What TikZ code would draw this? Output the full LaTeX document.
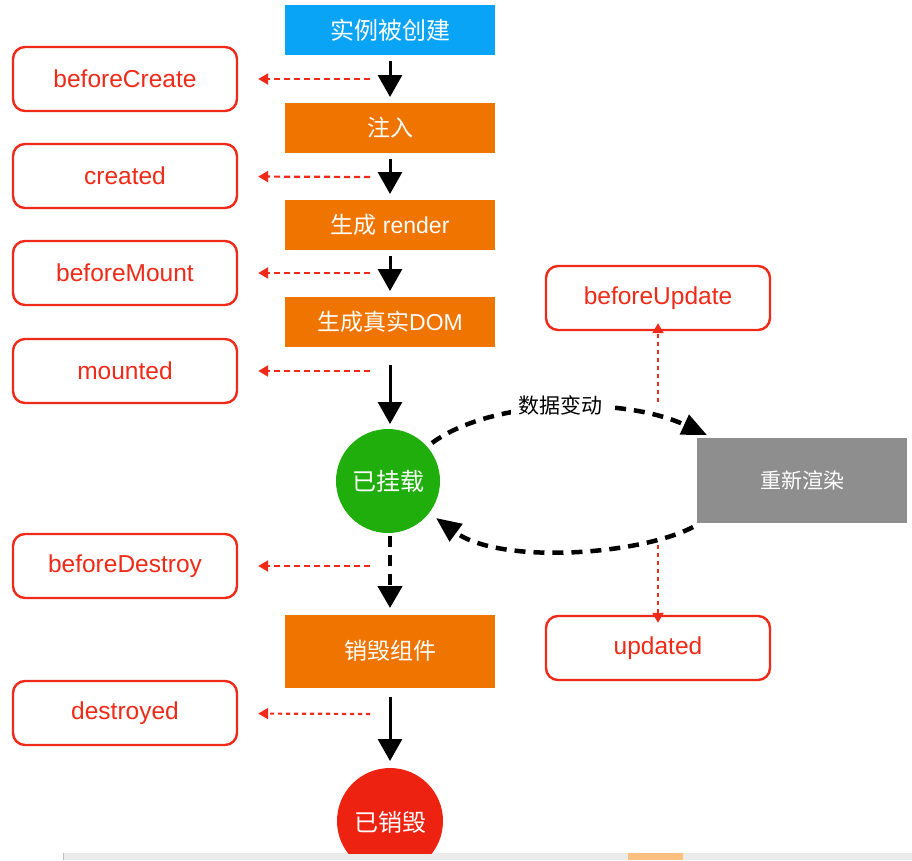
\documentclass[tikz,border=0pt]{standalone}
\usepackage{fontspec}
\setmainfont{Liberation Sans}
\newfontfamily\cjk{Noto Sans CJK SC}
\usetikzlibrary{arrows.meta}
\definecolor{sky}{HTML}{0AA4F6}
\definecolor{org}{HTML}{F07400}
\definecolor{hred}{HTML}{F02A18}
\definecolor{grn}{HTML}{1FAE0B}
\definecolor{gry}{HTML}{8E8E8E}
\definecolor{dred}{HTML}{EE2210}
\tikzset{
  stage/.style={fill=org, minimum width=210pt, minimum height=50pt, inner sep=0pt, text=white, font=\cjk\fontsize{23}{26}\selectfont},
  hookbox/.style={draw=hred, line width=2.4pt, rounded corners=12pt, fill=white, minimum width=224pt, minimum height=64pt, text=hred, font=\fontsize{24.5}{28}\selectfont},
  flow/.style={line width=3pt, -{Triangle[width=24pt,length=22pt]}},
  hook/.style={hred, line width=2.2pt, dash pattern=on 6pt off 4pt, -{Triangle[width=11pt,length=10pt]}, shorten >=20pt},
  dothook/.style={hred, line width=2.2pt, dash pattern=on 4pt off 4pt, -{Triangle[width=11pt,length=10pt]}},
  loopline/.style={line width=4.5pt, dash pattern=on 11pt off 8pt, -{Triangle[width=21pt,length=25pt]}},
}
\begin{document}
\begin{tikzpicture}[x=1pt,y=-1pt]
\useasboundingbox (0,0) rectangle (912,860);
% screen strip at bottom
\fill[black!8] (0,853) rectangle (912,860);
\fill[white] (0,853) rectangle (63,860);
\draw[black!25] (63,853) -- (63,860);
\fill[orange!50] (628,853) rectangle (683,860);

% main column
\node[stage, fill=sky, font=\cjk\fontsize{24}{26}\selectfont] (s0) at (390,30) {实例被创建};
\node[stage] (s1) at (390,128) {注入};
\node[stage] (s2) at (390,225) {生成\fontspec{Liberation Sans}\ render};
\node[stage] (s3) at (390,322) {生成真实\fontspec{Liberation Sans}DOM};
\node[circle, fill=grn, minimum size=104pt, inner sep=0pt, text=white, font=\cjk\fontsize{24}{26}\selectfont] (mt) at (388,481) {已挂载};
\node[stage] (s4) at (390,651) [minimum height=73pt] {销毁组件};
\begin{scope}
\clip (0,0) rectangle (912,853);
\node[circle, fill=dred, minimum size=106pt, inner sep=0pt] (dd) at (390,821) {};
\end{scope}
\node[text=white, font=\cjk\fontsize{24}{26}\selectfont] (ddt) at (390,822) {已销毁};
\node[fill=gry, minimum width=210pt, minimum height=85pt, inner sep=0pt, text=white, font=\cjk\fontsize{21}{24}\selectfont] (rr) at (802,480) {重新渲染};

% hook boxes
\node[hookbox] (h1) at (125,79) {beforeCreate};
\node[hookbox] (h2) at (125,176) {created};
\node[hookbox] (h3) at (125,273) {beforeMount};
\node[hookbox] (h4) at (125,371) {mounted};
\node[hookbox] (h5) at (125,566) {beforeDestroy};
\node[hookbox] (h6) at (125,713) {destroyed};
\node[hookbox] (bu) at (658,298) {beforeUpdate};
\node[hookbox] (up) at (658,648) {updated};

% flow arrows
\draw[flow] (390,61) -- (390,97);
\draw[flow] (390,159) -- (390,194);
\draw[flow] (390,256) -- (390,291);
\draw[flow] (390,365) -- (390,424);
\draw[flow] (390,697) -- (390,761);
\draw[loopline, -{Triangle[width=24pt,length=22pt]}] (390,536) -- (390,608);

% hook connectors
\coordinate (c1) at (370,79);
\coordinate (c2) at (370,177);
\coordinate (c3) at (370,273);
\coordinate (c4) at (370,371);
\coordinate (c5) at (370,566);
\coordinate (c6) at (370,714);
\draw[hook] (c1) -- (h1);
\draw[hook] (c2) -- (h2);
\draw[hook] (c3) -- (h3);
\draw[hook] (c4) -- (h4);
\draw[hook] (c5) -- (h5);
\draw[hook, dash pattern=on 4pt off 4pt] (c6) -- (h6);
\coordinate (u1) at (658,402);
\coordinate (u2) at (658,545);
\draw[dothook] (u1) -- ([yshift=8pt]bu.south);
\draw[dothook] (u2) -- ([yshift=-8pt]up.north);

% update loop
\coordinate (l0) at (432,443);
\coordinate (l1) at (707,435);
\coordinate (l2) at (693,527);
\coordinate (l3) at (436,518);
\draw[loopline] (l0) .. controls (490,400) and (620,395) .. (l1);
\node[fill=white, inner sep=7pt, font=\cjk\fontsize{21}{24}\selectfont] (lbl) at (560,405) {数据变动};
\draw[loopline] (l2) .. controls (640,555) and (500,565) .. (l3);
\end{tikzpicture}
\end{document}
